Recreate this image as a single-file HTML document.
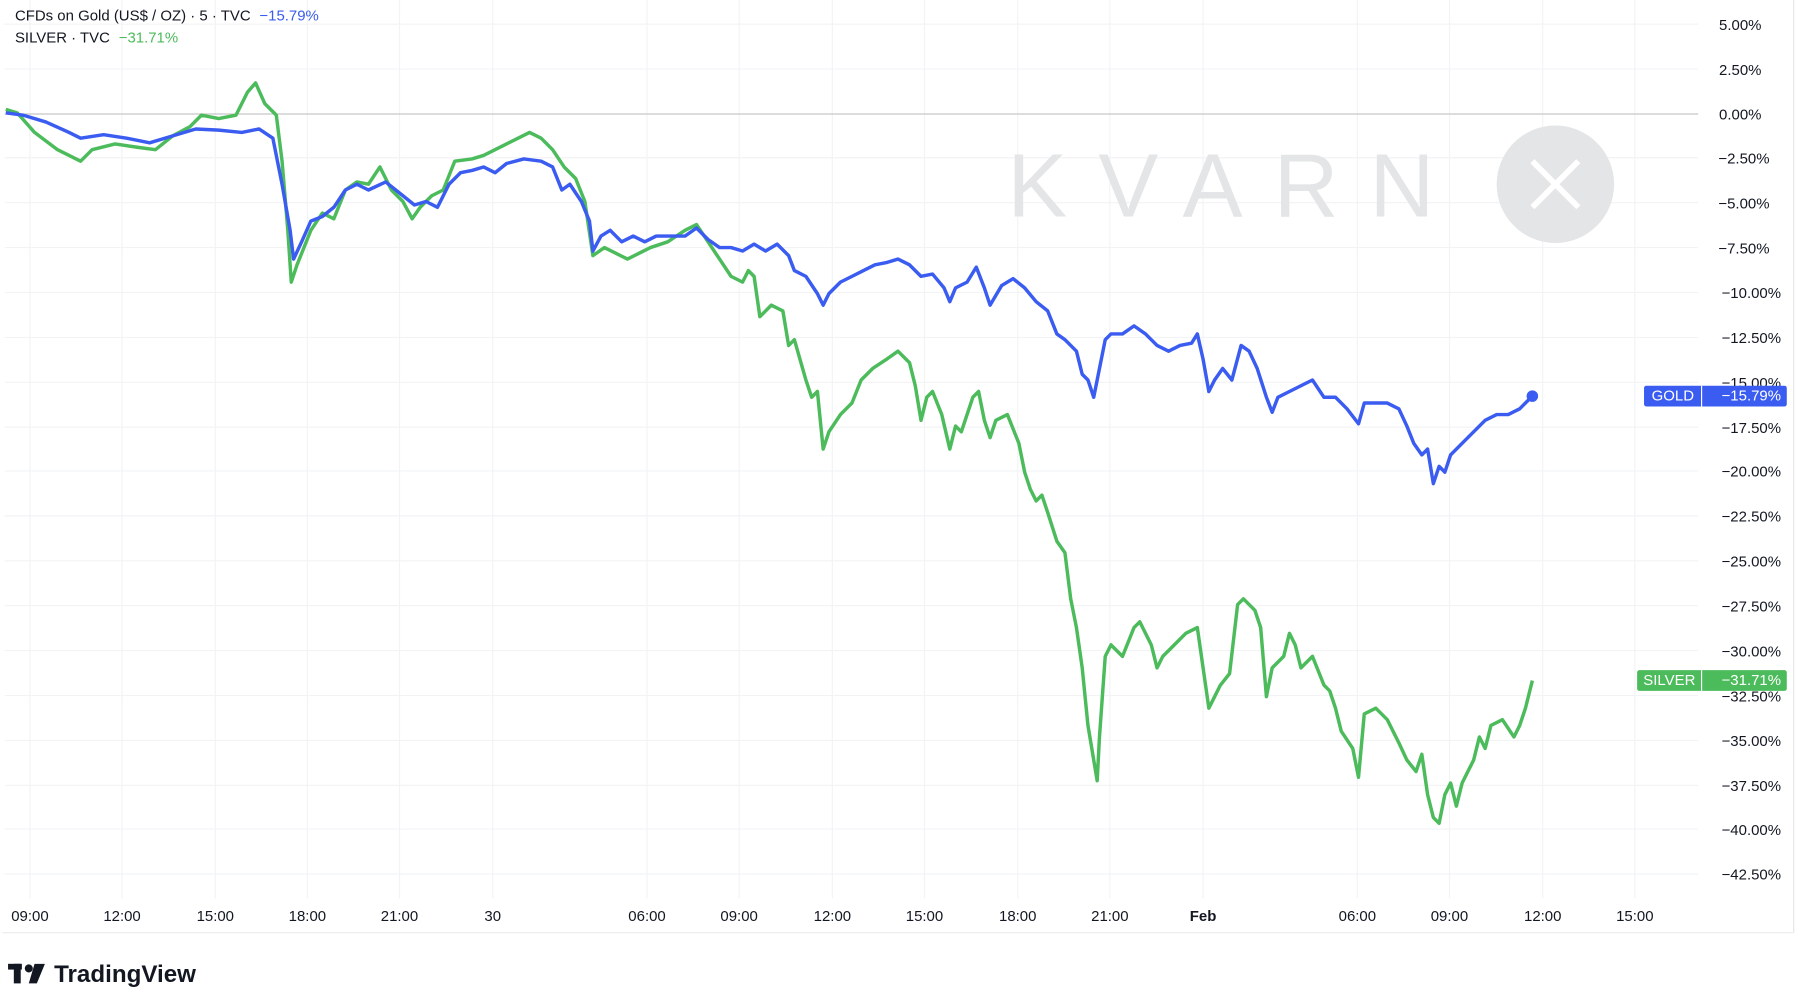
<!DOCTYPE html>
<html><head><meta charset="utf-8"><style>
html,body{margin:0;padding:0;background:#fff;}
svg{display:block;font-family:"Liberation Sans",sans-serif;}
</style></head><body>
<svg width="1796" height="988" viewBox="0 0 1560 858" preserveAspectRatio="none" xmlns="http://www.w3.org/2000/svg">
<rect width="1560" height="858" fill="#fff"/>
<g stroke="#f2f3f5" stroke-width="1">
<line x1="4" y1="21" x2="1475" y2="21"/><line x1="4" y1="60" x2="1475" y2="60"/>
<line x1="4" y1="137" x2="1475" y2="137"/><line x1="4" y1="176" x2="1475" y2="176"/>
<line x1="4" y1="215" x2="1475" y2="215"/><line x1="4" y1="254" x2="1475" y2="254"/>
<line x1="4" y1="293" x2="1475" y2="293"/><line x1="4" y1="332" x2="1475" y2="332"/>
<line x1="4" y1="371" x2="1475" y2="371"/><line x1="4" y1="409" x2="1475" y2="409"/>
<line x1="4" y1="448" x2="1475" y2="448"/><line x1="4" y1="487" x2="1475" y2="487"/>
<line x1="4" y1="526" x2="1475" y2="526"/><line x1="4" y1="565" x2="1475" y2="565"/>
<line x1="4" y1="604" x2="1475" y2="604"/><line x1="4" y1="643" x2="1475" y2="643"/>
<line x1="4" y1="682" x2="1475" y2="682"/><line x1="4" y1="720" x2="1475" y2="720"/>
<line x1="4" y1="759" x2="1475" y2="759"/>
<line x1="26" y1="0" x2="26" y2="780"/><line x1="106" y1="0" x2="106" y2="780"/><line x1="187" y1="0" x2="187" y2="780"/><line x1="267" y1="0" x2="267" y2="780"/><line x1="347" y1="0" x2="347" y2="780"/><line x1="428" y1="0" x2="428" y2="780"/><line x1="562" y1="0" x2="562" y2="780"/><line x1="642" y1="0" x2="642" y2="780"/><line x1="723" y1="0" x2="723" y2="780"/><line x1="803" y1="0" x2="803" y2="780"/><line x1="884" y1="0" x2="884" y2="780"/><line x1="964" y1="0" x2="964" y2="780"/><line x1="1045" y1="0" x2="1045" y2="780"/><line x1="1179" y1="0" x2="1179" y2="780"/><line x1="1259" y1="0" x2="1259" y2="780"/><line x1="1340" y1="0" x2="1340" y2="780"/><line x1="1420" y1="0" x2="1420" y2="780"/>
</g>
<line x1="1558" y1="0" x2="1558" y2="810" stroke="#e6e6e6"/>
<line x1="2" y1="810" x2="1558" y2="810" stroke="#ececec"/>
<line x1="4" y1="99" x2="1475" y2="99" stroke="#c8c8c8" stroke-width="1"/>
<text x="875" y="188" font-size="78" fill="#e3e5e6" letter-spacing="27">KVARN</text>
<circle cx="1351" cy="160" r="51" fill="#e3e5e6"/>
<path d="M1331 140 L1371 180 M1371 140 L1331 180" stroke="#fff" stroke-width="5"/>
<g font-size="13" fill="#131722" text-anchor="end">
<text x="1530" y="26">5.00%</text><text x="1530" y="65">2.50%</text><text x="1530" y="104">0.00%</text>
<text x="1537" y="142">−2.50%</text><text x="1537" y="181">−5.00%</text><text x="1537" y="220">−7.50%</text>
<text x="1547" y="259">−10.00%</text><text x="1547" y="298">−12.50%</text><text x="1547" y="337">−15.00%</text>
<text x="1547" y="376">−17.50%</text><text x="1547" y="414">−20.00%</text><text x="1547" y="453">−22.50%</text>
<text x="1547" y="492">−25.00%</text><text x="1547" y="531">−27.50%</text><text x="1547" y="570">−30.00%</text>
<text x="1547" y="609">−32.50%</text><text x="1547" y="648">−35.00%</text><text x="1547" y="687">−37.50%</text>
<text x="1547" y="725">−40.00%</text><text x="1547" y="764">−42.50%</text>
</g>
<g font-size="13" fill="#131722" text-anchor="middle">
<text x="26" y="800">09:00</text><text x="106" y="800">12:00</text><text x="187" y="800">15:00</text><text x="267" y="800">18:00</text><text x="347" y="800">21:00</text><text x="428" y="800">30</text><text x="562" y="800">06:00</text><text x="642" y="800">09:00</text><text x="723" y="800">12:00</text><text x="803" y="800">15:00</text><text x="884" y="800">18:00</text><text x="964" y="800">21:00</text><text x="1045" y="800" font-weight="bold">Feb</text><text x="1179" y="800">06:00</text><text x="1259" y="800">09:00</text><text x="1340" y="800">12:00</text><text x="1420" y="800">15:00</text>
</g>
<polyline fill="none" stroke="#4cbb5b" stroke-width="3" stroke-linejoin="round" points="5,95 15,98 30,115 50,130 70,140 80,130 100,125 120,128 135,130 150,118 165,110 175,100 190,103 205,100 215,80 222,72 230,90 240,100 245,140 250,200 253,245 258,230 262,220 270,200 280,185 290,190 300,165 310,158 320,160 330,145 340,165 350,175 358,190 365,180 375,170 385,165 395,140 410,138 420,135 430,130 440,125 450,120 460,115 470,120 480,130 490,145 500,155 508,175 515,222 525,215 535,220 545,225 555,220 565,215 580,210 595,200 605,195 615,210 625,225 635,240 645,245 650,235 655,240 660,275 670,265 680,270 685,300 690,295 700,330 705,345 710,340 715,390 720,375 730,360 740,350 748,330 758,320 770,312 780,305 790,315 795,335 800,365 805,345 810,340 818,360 825,390 830,370 835,375 845,345 850,340 855,365 860,380 865,365 875,360 885,385 890,410 895,425 900,435 905,430 910,445 918,470 925,480 930,520 935,545 940,580 945,630 950,660 953,678 955,640 960,570 965,560 975,570 985,545 990,540 1000,560 1005,580 1010,570 1020,560 1030,550 1040,545 1045,580 1050,615 1055,605 1060,595 1068,585 1075,525 1080,520 1090,530 1095,545 1100,605 1105,580 1115,570 1120,550 1125,560 1130,580 1140,570 1150,595 1155,600 1160,615 1165,635 1175,650 1180,675 1185,620 1195,615 1205,625 1215,645 1222,660 1230,670 1235,655 1240,690 1245,710 1250,715 1255,690 1260,680 1265,700 1270,680 1280,660 1285,640 1290,650 1295,630 1305,625 1315,640 1320,630 1325,615 1331,591"/>
<polyline fill="none" stroke="#3a5cf0" stroke-width="3" stroke-linejoin="round" points="5,98 20,100 40,106 60,115 70,120 90,117 110,120 130,124 150,118 170,112 190,113 210,115 225,112 237,120 245,160 252,200 255,225 262,210 270,192 280,188 290,180 300,165 310,160 320,165 335,158 350,170 360,178 370,175 380,180 390,160 400,150 410,148 420,145 430,150 440,142 455,138 470,140 480,145 488,165 495,160 505,175 512,192 515,218 522,205 530,200 540,210 550,205 560,210 570,205 585,205 595,205 605,198 615,208 625,215 635,215 645,218 655,212 665,218 675,212 685,222 690,235 700,240 710,255 715,265 720,255 730,245 740,240 750,235 760,230 770,228 780,225 790,230 800,240 810,238 820,250 825,262 830,250 840,245 848,232 855,250 860,265 870,248 880,242 890,250 900,262 910,270 918,290 925,295 935,305 940,325 945,330 950,345 955,320 960,295 965,290 975,290 985,283 995,290 1005,300 1015,305 1025,300 1035,298 1040,290 1045,312 1050,340 1055,330 1062,320 1070,330 1078,300 1085,305 1092,320 1100,345 1105,358 1110,345 1120,340 1130,335 1140,330 1150,345 1160,345 1170,355 1180,368 1185,350 1195,350 1205,350 1215,355 1222,370 1228,385 1235,395 1240,390 1245,420 1250,405 1255,410 1260,395 1270,385 1280,375 1290,365 1300,360 1310,360 1320,355 1331,344"/>
<circle cx="1331" cy="344" r="5" fill="#3a5cf0"/>
<rect x="1428" y="335" width="124" height="18" rx="2" fill="#3a5cf0"/>
<line x1="1478" y1="335" x2="1478" y2="353" stroke="#fff" stroke-width="1"/>
<text x="1453" y="348" font-size="13" fill="#fff" text-anchor="middle">GOLD</text>
<text x="1547" y="348" font-size="13" fill="#fff" text-anchor="end">−15.79%</text>
<rect x="1422" y="582" width="130" height="18" rx="2" fill="#4cbb5b"/>
<line x1="1478" y1="582" x2="1478" y2="600" stroke="#fff" stroke-width="1"/>
<text x="1450" y="595" font-size="13" fill="#fff" text-anchor="middle">SILVER</text>
<text x="1547" y="595" font-size="13" fill="#fff" text-anchor="end">−31.71%</text>
<text x="13" y="18" font-size="13" fill="#131722">CFDs on Gold (US$ / OZ) · 5 · TVC <tspan fill="#3a5cf0" dx="4">−15.79%</tspan></text>
<text x="13" y="37" font-size="13" fill="#131722">SILVER · TVC <tspan fill="#4cbb5b" dx="4">−31.71%</tspan></text>
<g fill="#131722">
<rect x="7" y="837" width="12" height="5"/><rect x="12" y="837" width="6" height="17"/>
<circle cx="25" cy="841" r="3.5"/><path d="M30 837 L39 837 L32 854 L25 854 Z"/>
</g>
<text x="47" y="853" font-size="21" font-weight="bold" fill="#131722">TradingView</text>
</svg>
</body></html>
